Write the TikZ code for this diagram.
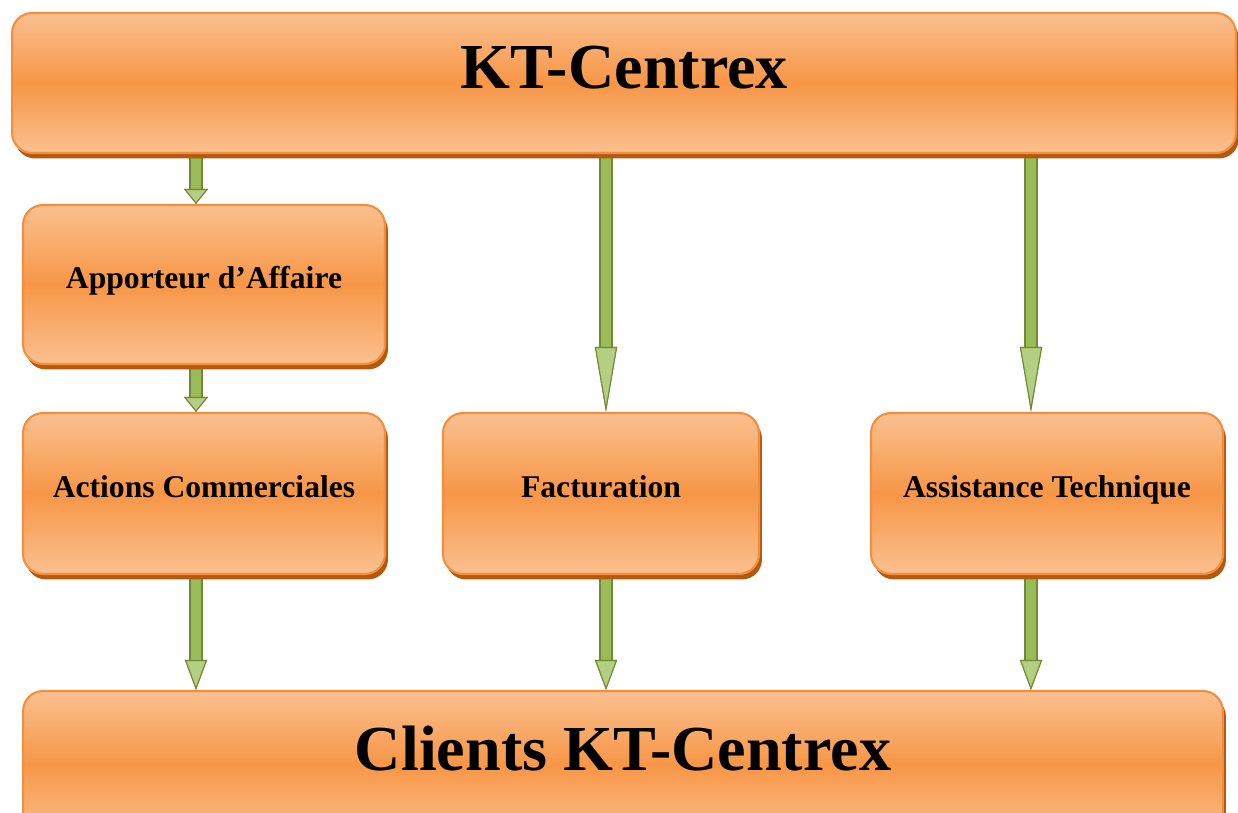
\documentclass[tikz,border=0pt]{standalone}
\usepackage{fontspec}
\setmainfont{Liberation Serif}
\usetikzlibrary{arrows.meta,shadows,backgrounds}

\definecolor{boxlight}{HTML}{FAC090}
\definecolor{boxmid}{HTML}{F79646}
\definecolor{boxline}{HTML}{F48E3C}
\definecolor{boxshadow}{HTML}{B35A10}
\definecolor{greenlight}{HTML}{B4CE82}
\definecolor{greenmid}{HTML}{9BBB59}
\definecolor{greendark}{HTML}{6F8A37}

\tikzset{
	box/.style={rectangle, rounded corners=0.4cm, draw=boxline, line width=1.2pt,
		top color=boxlight, bottom color=boxlight, middle color=boxmid,
		general shadow={fill=boxshadow, shadow xshift=0.06cm, shadow yshift=-0.11cm},
		font=\bfseries\fontsize{18}{20}\selectfont, text height=14pt, text depth=10pt},
	bigbox/.style={box, font=\bfseries\fontsize{36.5}{40}\selectfont, text height=26pt, text depth=20pt},
	garrow/.style 2 args={draw=greenmid, line width=0.2cm,
		-{Triangle[length=#1, width=#2, fill=greenlight, color=greendark, line width=0.6pt]},
		preaction={draw=greendark, line width=0.28cm,
			-{Triangle[length=#1, width=#2, fill=greendark, color=greendark, line width=0.6pt]}}}
}

\begin{document}
\begin{tikzpicture}[x=0.02cm, y=-0.02cm]
		\useasboundingbox (0,0) rectangle (1238,812);
		
		\node[bigbox, minimum width=24.48cm, minimum height=2.8cm] (kt) at (624,83) {KT-Centrex};
		\node[box, minimum width=7.24cm, minimum height=3.18cm] (app) at (204,284.5) {Apporteur d'Affaire};
		\node[box, minimum width=7.24cm, minimum height=3.22cm] (act) at (204,493.5) {Actions Commerciales};
		\node[box, minimum width=6.32cm, minimum height=3.22cm] (fact) at (601,493.5) {Facturation};
		\node[box, minimum width=7.04cm, minimum height=3.22cm] (assist) at (1047,493.5) {Assistance Technique};
		\node[bigbox, minimum width=24cm, minimum height=2.96cm] (clients) at (623,765) {Clients KT-Centrex};
		
		\coordinate (colA) at (196,0);
		\coordinate (colB) at (606,0);
		\coordinate (colC) at (1031,0);
		
		%
		\begin{pgfonlayer}{background}
		\path
			(kt.south -| colA) edge[garrow={0.3cm}{0.48cm}] (app.north -| colA)
			(app.south -| colA) edge[garrow={0.3cm}{0.48cm}] (act.north -| colA)
			(kt.south -| colB) edge[garrow={1.3cm}{0.44cm}] (fact.north -| colB)
			(kt.south -| colC) edge[garrow={1.3cm}{0.44cm}] (assist.north -| colC)
			(act.south -| colA) edge[garrow={0.6cm}{0.44cm}] (clients.north -| colA)
			(fact.south -| colB) edge[garrow={0.6cm}{0.44cm}] (clients.north -| colB)
			(assist.south -| colC) edge[garrow={0.6cm}{0.44cm}] (clients.north -| colC);
		\end{pgfonlayer}
		
	\end{tikzpicture}
\end{document}
